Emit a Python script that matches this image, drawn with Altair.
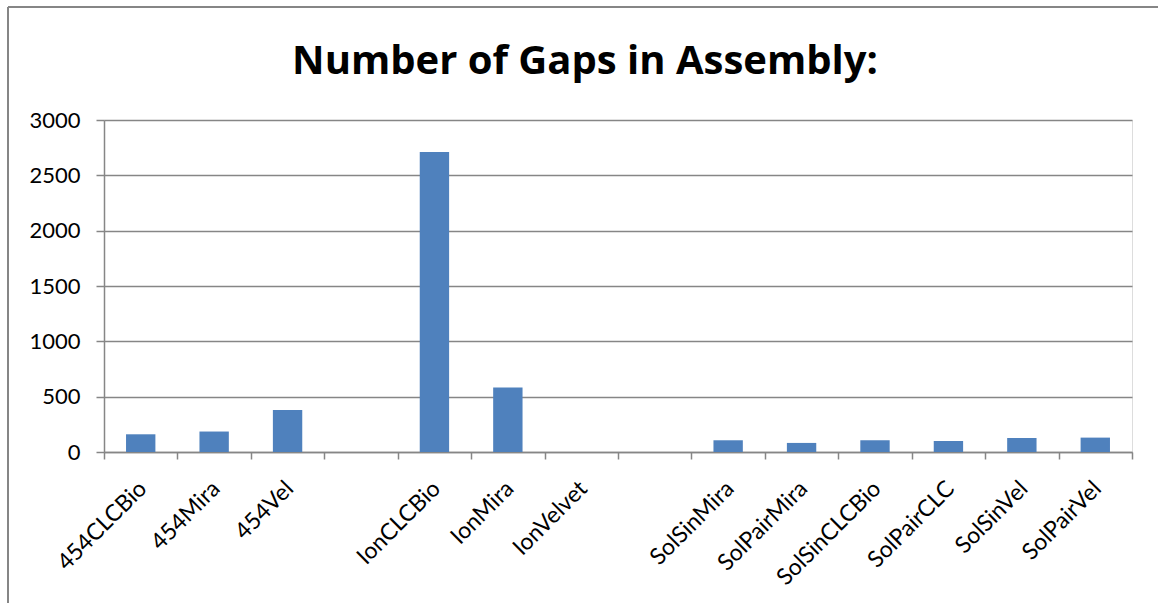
import altair as alt
import pandas as pd

# Category slots (two empty slots separate the groups)
slots = ["454CLCBio", "454Mira", "454Vel", " ",
         "IonCLCBio", "IonMira", "IonVelvet", "  ",
         "SolSinMira", "SolPairMira", "SolSinCLCBio", "SolPairCLC", "SolSinVel", "SolPairVel"]
categories = ["454CLCBio", "454Mira", "454Vel",
              "IonCLCBio", "IonMira", "IonVelvet",
              "SolSinMira", "SolPairMira", "SolSinCLCBio", "SolPairCLC", "SolSinVel", "SolPairVel"]
gaps = [160, 185, 380,
        2710, 582, 0,
        106, 82, 106, 100, 126, 130]
y_ticks = [0, 500, 1000, 1500, 2000, 2500, 3000]
title_text = "Number of Gaps in Assembly:"

df = pd.DataFrame({"assembly": categories, "gaps": gaps})

FONT = "Lato"
GRAY = "#868686"

bars = alt.Chart(df).mark_bar(color="#4F81BD", width={"band": 0.4}).encode(
    x=alt.X("assembly:N", sort=slots,
            scale=alt.Scale(domain=slots, paddingInner=0, paddingOuter=0),
            axis=alt.Axis(title=None, labelAngle=-45, labelAlign="right", labelBaseline="top",
                          labelFont=FONT, labelFontSize=23, labelColor="black",
                          labelPadding=18, labelOffset=-6, tickBand="extent", tickSize=7,
                          tickColor=GRAY, domainColor=GRAY, domainWidth=1.5, tickWidth=1.5,
                          grid=False)),
    y=alt.Y("gaps:Q", scale=alt.Scale(domain=[0, 3000]),
            axis=alt.Axis(title=None, values=y_ticks, format="d", labelFont=FONT,
                          labelFontSize=22, labelColor="black", labelPadding=16, tickSize=8,
                          tickColor=GRAY, domainColor=GRAY, domainWidth=1.5, tickWidth=1.5,
                          grid=True, gridColor=GRAY, gridWidth=1.5)),
)

border_left = alt.Chart(df).mark_rule(color=GRAY, strokeWidth=2).encode(
    x=alt.value(-96), y=alt.value(-113), y2=alt.value(500))
border_top = alt.Chart(df).mark_rule(color=GRAY, strokeWidth=2).encode(
    x=alt.value(-96), x2=alt.value(1060), y=alt.value(-113))

title = alt.Chart(pd.DataFrame({"t": [title_text]})).mark_text(
    font="Open Sans", fontSize=40, fontWeight="bold", color="black",
    align="center", baseline="alphabetic").encode(
    text="t:N", x=alt.value(481), y=alt.value(-46))

chart = alt.layer(border_left, border_top, bars, title).properties(
    width=1028, height=332,
    autosize=alt.AutoSizeParams(type="none"),
    padding={"left": 104, "top": 120, "right": 26, "bottom": 151},
).configure_view(stroke=None).configure(background="white")

chart.save("out.html", embed_options={"renderer": "svg", "actions": False})
